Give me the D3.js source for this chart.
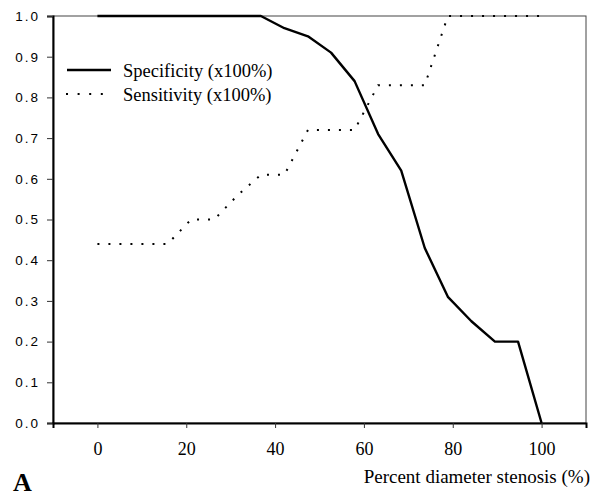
<!DOCTYPE html>
<html>
<head>
<meta charset="utf-8">
<script src="https://cdn.jsdelivr.net/npm/d3@7"></script>
<style>
  body { margin: 0; background: #fff; }
  svg { display: block; }
</style>
</head>
<body>
<div id="chart"></div>
<script>
// percent diameter stenosis thresholds
const stenosis = [0, 5.3, 10.5, 15.8, 21.1, 26.3, 31.6, 36.8, 42.1, 47.4, 52.6, 57.9, 63.2, 68.4, 73.7, 78.9, 84.2, 89.5, 94.7, 100];
const specificity = [1, 1, 1, 1, 1, 1, 1, 1, 0.97, 0.95, 0.91, 0.84, 0.71, 0.62, 0.43, 0.31, 0.25, 0.20, 0.20, 0.00];
const sensitivity = [0.44, 0.44, 0.44, 0.44, 0.50, 0.50, 0.56, 0.61, 0.61, 0.72, 0.72, 0.72, 0.83, 0.83, 0.83, 1, 1, 1, 1, 1];
const xTicks = [0, 20, 40, 60, 80, 100];
const yTicks = [0, 0.1, 0.2, 0.3, 0.4, 0.5, 0.6, 0.7, 0.8, 0.9, 1.0];
const seriesNames = ['Specificity (x100%)', 'Sensitivity (x100%)'];
const xTitle = 'Percent diameter stenosis (%)';
const panelLabel = 'A';

const width = 596;
const height = 496;
const margin = {top: 16, right: 10, bottom: 73, left: 53};

const svg = d3.select('#chart')
  .append('svg')
  .attr('width', width)
  .attr('height', height);

const x = d3.scaleLinear()
  .domain([-10, 110])
  .range([margin.left, width - margin.right]);

const y = d3.scaleLinear()
  .domain([0, 1])
  .range([height - margin.bottom, margin.top]);

const serif = '"Liberation Serif", "Times New Roman", serif';
const sans = '"Liberation Sans", Arial, sans-serif';

// frame: top and right are thin
svg.append('rect')
  .attr('x', x(-10))
  .attr('y', y(1))
  .attr('width', x(110) - x(-10))
  .attr('height', y(0) - y(1))
  .attr('fill', 'none')
  .attr('stroke', '#444')
  .attr('stroke-width', 1);

// y axis
const yAxis = svg.append('g')
  .attr('transform', `translate(${margin.left},0)`)
  .call(d3.axisLeft(y).tickValues(yTicks).tickFormat(d3.format('.1f')).tickSize(6).tickPadding(7));
yAxis.select('.domain').attr('stroke-width', 2).attr('stroke', '#000');
yAxis.selectAll('.tick line').attr('stroke', '#333');
yAxis.selectAll('text')
  .attr('font-family', sans)
  .attr('font-size', 13.5)
  .attr('letter-spacing', 2)
  .attr('fill', '#000');

// x axis
const xAxis = svg.append('g')
  .attr('transform', `translate(0,${height - margin.bottom})`)
  .call(d3.axisBottom(x).tickValues(xTicks).tickSize(5).tickPadding(14));
xAxis.select('.domain').attr('stroke-width', 2).attr('stroke', '#000');
xAxis.selectAll('.tick line').attr('stroke', '#333');
xAxis.selectAll('text')
  .attr('font-family', serif)
  .attr('font-size', 18)
  .attr('fill', '#000');

const line = d3.line()
  .x((d, i) => x(stenosis[i]))
  .y(d => y(d));

svg.append('path')
  .datum(specificity)
  .attr('fill', 'none')
  .attr('stroke', '#000')
  .attr('stroke-width', 2.4)
  .attr('stroke-linejoin', 'round')
  .attr('d', line);

svg.append('path')
  .datum(sensitivity)
  .attr('fill', 'none')
  .attr('stroke', '#000')
  .attr('stroke-width', 2)
  .attr('stroke-dasharray', '2 9')
  .attr('d', line);

// legend
const legend = svg.append('g');
legend.append('line')
  .attr('x1', 67).attr('x2', 111)
  .attr('y1', 70).attr('y2', 70)
  .attr('stroke', '#000')
  .attr('stroke-width', 2.4);
legend.append('line')
  .attr('x1', 66).attr('x2', 104)
  .attr('y1', 94).attr('y2', 94)
  .attr('stroke', '#000')
  .attr('stroke-width', 2)
  .attr('stroke-dasharray', '2 9.6');
legend.selectAll('text')
  .data(seriesNames)
  .enter()
  .append('text')
  .attr('x', 123)
  .attr('y', (d, i) => 77 + i * 24)
  .attr('font-family', serif)
  .attr('font-size', 18.5)
  .text(d => d);

svg.append('text')
  .attr('x', width - 6)
  .attr('y', 483)
  .attr('text-anchor', 'end')
  .attr('font-family', serif)
  .attr('font-size', 19)
  .text(xTitle);

svg.append('text')
  .attr('x', 13)
  .attr('y', 491)
  .attr('font-family', serif)
  .attr('font-weight', 'bold')
  .attr('font-size', 26)
  .text(panelLabel);
</script>
</body>
</html>
